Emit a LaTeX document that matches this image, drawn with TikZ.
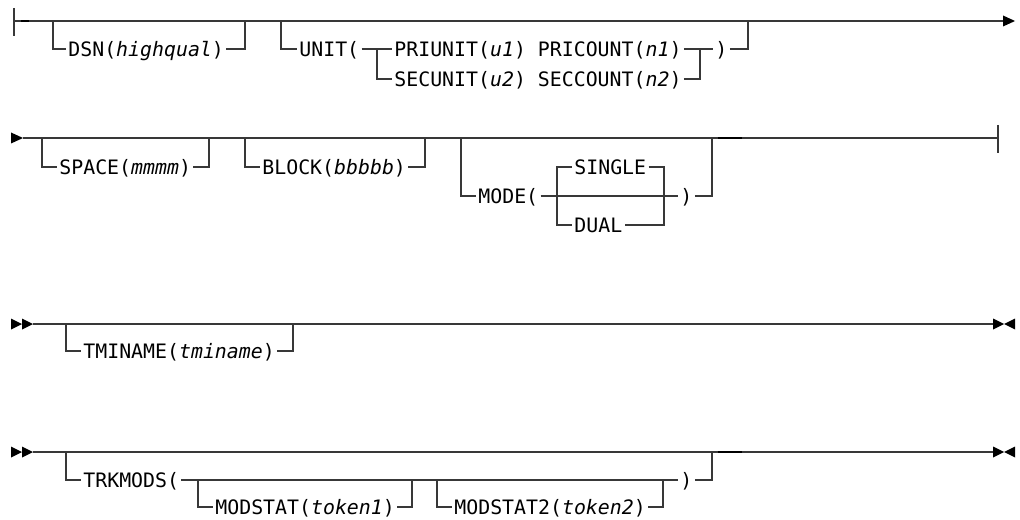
\documentclass[tikz,border=0pt]{standalone}
\usepackage{fontspec}
\newfontfamily\rr{DejaVu Sans Mono}
\begin{document}
\begin{tikzpicture}[x=0.75pt,y=-0.75pt,
  rail/.style={line width=1.25pt, draw=black!78, line cap=butt},
  dark/.style={line width=1.7pt, draw=black},
  txt/.style={font=\rr\fontsize{14.9}{17}\selectfont, text=black, inner xsep=1.6pt, inner ysep=0pt, text height=11.2pt, text depth=0.4pt, anchor=west},
  tip/.style={fill=black, draw=none}]
\useasboundingbox (0,0) rectangle (1020,520);

% ---------------- Row 1 ----------------
\coordinate (r1s) at (14,21);
\coordinate (r1e) at (1003,21);
\draw[rail] (14,8) -- (14,36);
\draw[rail] (r1s) -- (r1e);
\draw[dark] (21,21) -- (29,21);
\fill[tip] (1003,15.5) -- (1015,21) -- (1003,26.5) -- cycle;

\coordinate (d1) at (53,21);
\coordinate (d2) at (245,21);
\node[txt] (dsn) at (66,49) {DSN(\textit{highqual})};
\draw[rail] (d1) |- (dsn.west);
\draw[rail] (dsn.east) -| (d2);

\coordinate (u1) at (281,21);
\coordinate (u2) at (748,21);
\coordinate (uj1) at (377,49);
\coordinate (uj2) at (700,49);
\node[txt] (unit) at (297,49) {UNIT(};
\node[txt] (pri) at (392,49) {PRIUNIT(\textit{u1}) PRICOUNT(\textit{n1})};
\node[txt] (sec) at (392,79) {SECUNIT(\textit{u2}) SECCOUNT(\textit{n2})};
\node[txt] (urp) at (713,49) {)};
\draw[rail] (u1) |- (unit.west);
\draw[rail] (unit.east) -- (pri.west);
\draw[rail] (uj1) |- (sec.west);
\draw[rail] (pri.east) -- (urp.west);
\draw[rail] (sec.east) -| (uj2);
\draw[rail] (urp.east) -| (u2);

% ---------------- Row 2 ----------------
\coordinate (r2s) at (23,138);
\coordinate (r2e) at (998,138);
\fill[tip] (11,132.5) -- (23,138) -- (11,143.5) -- cycle;
\draw[rail] (r2s) -- (r2e);
\draw[rail] (998,125) -- (998,153);
\draw[dark] (718,138) -- (742,138);

\coordinate (s1) at (42,138);
\coordinate (s2) at (209,138);
\node[txt] (space) at (57,167) {SPACE(\textit{mmmm})};
\draw[rail] (s1) |- (space.west);
\draw[rail] (space.east) -| (s2);

\coordinate (b1) at (245,138);
\coordinate (b2) at (425,138);
\node[txt] (block) at (260,167) {BLOCK(\textit{bbbbb})};
\draw[rail] (b1) |- (block.west);
\draw[rail] (block.east) -| (b2);

\coordinate (m1) at (461,138);
\coordinate (m2) at (712,138);
\coordinate (mj1) at (557,196);
\coordinate (mj2) at (664,196);
\node[txt] (mode) at (476,196) {MODE(};
\node[txt] (single) at (572,167) {SINGLE};
\node[txt] (dual) at (572,225) {DUAL};
\node[txt] (mrp) at (678,196) {)};
\draw[rail] (m1) |- (mode.west);
\draw[rail] (mode.east) -- (mrp.west);
\draw[rail] (single.west) -| (mj1) |- (dual.west);
\draw[rail] (single.east) -| (mj2) |- (dual.east);
\draw[rail] (mrp.east) -| (m2);

% ---------------- Row 3 ----------------
\coordinate (r3s) at (33,324);
\coordinate (r3e) at (993,324);
\fill[tip] (11,318.5) -- (22,324) -- (11,329.5) -- cycle;
\fill[tip] (22,318.5) -- (33,324) -- (22,329.5) -- cycle;
\draw[rail] (r3s) -- (r3e);
\fill[tip] (993,318.5) -- (1004,324) -- (993,329.5) -- cycle;
\fill[tip] (1015,318.5) -- (1004,324) -- (1015,329.5) -- cycle;

\coordinate (t1) at (66,324);
\coordinate (t2) at (293,324);
\node[txt] (tmi) at (81,351) {TMINAME(\textit{tminame})};
\draw[rail] (t1) |- (tmi.west);
\draw[rail] (tmi.east) -| (t2);

% ---------------- Row 4 ----------------
\coordinate (r4s) at (33,452);
\coordinate (r4e) at (993,452);
\fill[tip] (11,446.5) -- (22,452) -- (11,457.5) -- cycle;
\fill[tip] (22,446.5) -- (33,452) -- (22,457.5) -- cycle;
\draw[rail] (r4s) -- (r4e);
\draw[dark] (718,452) -- (742,452);
\fill[tip] (993,446.5) -- (1004,452) -- (993,457.5) -- cycle;
\fill[tip] (1015,446.5) -- (1004,452) -- (1015,457.5) -- cycle;

\coordinate (k1) at (66,452);
\coordinate (k2) at (712,452);
\node[txt] (trk) at (81,480) {TRKMODS(};
\node[txt] (trp) at (678,480) {)};
\draw[rail] (k1) |- (trk.west);
\draw[rail] (trk.east) -- (trp.west);
\draw[rail] (trp.east) -| (k2);

\coordinate (ma1) at (198,480);
\coordinate (ma2) at (412,480);
\node[txt] (ms1) at (213,507) {MODSTAT(\textit{token1})};
\draw[rail] (ma1) |- (ms1.west);
\draw[rail] (ms1.east) -| (ma2);

\coordinate (mb1) at (437,480);
\coordinate (mb2) at (663,480);
\node[txt] (ms2) at (452,507) {MODSTAT2(\textit{token2})};
\draw[rail] (mb1) |- (ms2.west);
\draw[rail] (ms2.east) -| (mb2);
\end{tikzpicture}
\end{document}
